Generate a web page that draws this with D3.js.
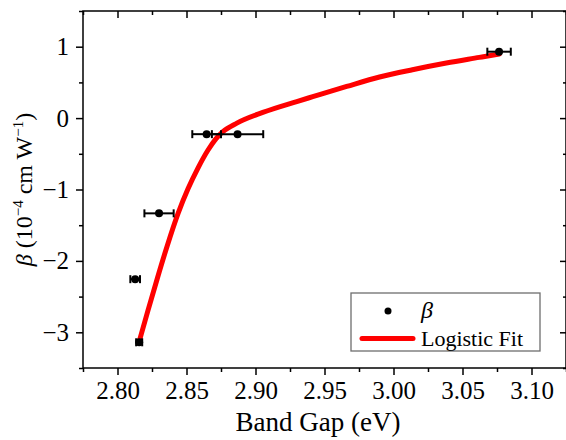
<!DOCTYPE html>
<html>
<head>
<meta charset="utf-8">
<script src="https://cdn.jsdelivr.net/npm/d3@7"></script>
</head>
<body style="margin:0;padding:0;background:#fff">
<svg id="chart" width="566" height="440" style="display:block"></svg>
<script>
// Measured nonlinear absorption coefficient versus band gap
const betaX    = [2.8157, 2.8128, 2.8301, 2.8646, 2.8870, 3.0765];
const betaY    = [-3.14, -2.256, -1.334, -0.225, -0.225, 0.930];
const betaXErr = [0.0022, 0.0035, 0.0106, 0.0104, 0.0186, 0.0085];

// Logistic fit curve sampled along its length
const fitX = [2.8157, 2.8220, 2.8290, 2.8360, 2.8439, 2.8511, 2.8583, 2.8655, 2.8713,
              2.8764, 2.8865, 2.9053, 2.9299, 2.9415, 2.9661, 2.9899, 3.0137, 3.0383,
              3.0622, 3.0767];
const fitY = [-3.13, -2.70, -2.235, -1.79, -1.334, -0.99, -0.70, -0.45, -0.29,
              -0.19, -0.07, 0.080, 0.232, 0.300, 0.443, 0.575, 0.677, 0.771,
              0.850, 0.898];

// Axis ticks
const xTicks = [2.80, 2.85, 2.90, 2.95, 3.00, 3.05, 3.10];
const xMinorTicks = [2.775, 2.825, 2.875, 2.925, 2.975, 3.025, 3.075, 3.125];
const yTicks = [-3, -2, -1, 0, 1];
const yMinorTicks = [-3.5, -2.5, -1.5, -0.5, 0.5, 1.5];

const legendLabels = ["β", "Logistic Fit"];

const serif = '"Liberation Serif", "Times New Roman", serif';
const svg = d3.select("#chart").attr("font-family", serif).style("font-family", serif);
const plotL = 83, plotR = 566, plotT = 11, plotB = 368;

const x = d3.scaleLinear().domain([2.775, 3.125]).range([plotL, plotR]);
const y = d3.scaleLinear().domain([-3.5, 1.5]).range([plotB, plotT]);

const majorLen = 7, minorLen = 4;
const axisStroke = 1.5;

// Serif text helper: font given both as attribute and inline style
function font(sel, size, italic) {
  return sel.attr("font-family", serif)
    .attr("font-size", size)
    .style("font-family", serif)
    .style("font-size", size + "px")
    .style("font-style", italic ? "italic" : "normal")
    .style("fill", "#000");
}

function styleAxis(g) {
  g.attr("font-family", serif).attr("font-size", 25);
  g.select(".domain").remove();
  g.selectAll(".tick line").attr("stroke", "#000").attr("stroke-width", axisStroke);
  font(g.selectAll(".tick text"), 25);
}

// Bottom axis: outward ticks with labels
svg.append("g").attr("transform", `translate(0,${plotB})`)
  .call(d3.axisBottom(x).tickValues(xTicks).tickSize(majorLen).tickPadding(6).tickFormat(d3.format(".2f")))
  .call(styleAxis);
svg.append("g").attr("transform", `translate(0,${plotB})`)
  .call(d3.axisBottom(x).tickValues(xMinorTicks).tickSize(minorLen).tickFormat(""))
  .call(styleAxis);

// Top axis: inward ticks
svg.append("g").attr("transform", `translate(0,${plotT})`)
  .call(d3.axisTop(x).tickValues(xTicks).tickSize(-majorLen).tickFormat(""))
  .call(styleAxis);
svg.append("g").attr("transform", `translate(0,${plotT})`)
  .call(d3.axisTop(x).tickValues(xMinorTicks).tickSize(-minorLen).tickFormat(""))
  .call(styleAxis);

// Left axis: outward ticks with labels
svg.append("g").attr("transform", `translate(${plotL},0)`)
  .call(d3.axisLeft(y).tickValues(yTicks).tickSize(majorLen).tickPadding(7).tickFormat(d3.format("d")))
  .call(styleAxis);
svg.append("g").attr("transform", `translate(${plotL},0)`)
  .call(d3.axisLeft(y).tickValues(yMinorTicks).tickSize(minorLen).tickFormat(""))
  .call(styleAxis);

// Right axis: inward ticks
svg.append("g").attr("transform", `translate(${plotR},0)`)
  .call(d3.axisRight(y).tickValues(yTicks).tickSize(-majorLen + 1).tickFormat(""))
  .call(styleAxis);
svg.append("g").attr("transform", `translate(${plotR},0)`)
  .call(d3.axisRight(y).tickValues(yMinorTicks).tickSize(-minorLen + 1).tickFormat(""))
  .call(styleAxis);

// Frame
svg.append("rect")
  .attr("x", plotL).attr("y", plotT)
  .attr("width", plotR - plotL).attr("height", plotB - plotT)
  .attr("fill", "none").attr("stroke", "#000").attr("stroke-width", axisStroke);

// Fit curve
const fitData = fitX.map((v, i) => [v, fitY[i]]);
svg.append("path")
  .datum(fitData)
  .attr("fill", "none")
  .attr("stroke", "#ff0000")
  .attr("stroke-width", 5)
  .attr("stroke-linecap", "round")
  .attr("stroke-linejoin", "round")
  .attr("d", d3.line().x(d => x(d[0])).y(d => y(d[1])).curve(d3.curveMonotoneX));

// Data points with horizontal error bars
const pts = betaX.map((v, i) => ({ x: v, y: betaY[i], e: betaXErr[i] }));
const capH = 4;
const eg = svg.append("g").attr("stroke", "#000").attr("stroke-width", 2);
pts.forEach(p => {
  const x0 = x(p.x - p.e), x1 = x(p.x + p.e), cy = y(p.y);
  eg.append("line").attr("x1", x0).attr("x2", x1).attr("y1", cy).attr("y2", cy);
  eg.append("line").attr("x1", x0).attr("x2", x0).attr("y1", cy - capH).attr("y2", cy + capH);
  eg.append("line").attr("x1", x1).attr("x2", x1).attr("y1", cy - capH).attr("y2", cy + capH);
});
svg.append("g").selectAll("circle").data(pts).join("circle")
  .attr("cx", d => x(d.x)).attr("cy", d => y(d.y)).attr("r", 4).attr("fill", "#000");

// Axis titles
font(svg.append("text"), 27)
  .attr("x", 318).attr("y", 431)
  .attr("text-anchor", "middle")
  .text("Band Gap (eV)");

const yTitle = font(svg.append("text"), 24)
  .attr("transform", `translate(32,${(plotT + plotB) / 2}) rotate(-90)`)
  .attr("text-anchor", "middle");
font(yTitle.append("tspan"), 24, true).text("β");
font(yTitle.append("tspan"), 24).text(" (10");
font(yTitle.append("tspan"), 15).attr("dy", -9).text("−4");
font(yTitle.append("tspan"), 24).attr("dy", 9).text(" cm W");
font(yTitle.append("tspan"), 15).attr("dy", -9).text("−1");
font(yTitle.append("tspan"), 24).attr("dy", 9).text(")");

// Legend
const lg = svg.append("g");
lg.append("rect")
  .attr("x", 351).attr("y", 293).attr("width", 189).attr("height", 58)
  .attr("fill", "#fff").attr("stroke", "#6e6e6e").attr("stroke-width", 1.3);
lg.append("circle").attr("cx", 388).attr("cy", 311).attr("r", 3.5).attr("fill", "#000");
font(lg.append("text"), 24, true)
  .attr("x", 421).attr("y", 318).text(legendLabels[0]);
lg.append("line").attr("x1", 362).attr("x2", 413).attr("y1", 338.5).attr("y2", 338.5)
  .attr("stroke", "#ff0000").attr("stroke-width", 5).attr("stroke-linecap", "round");
font(lg.append("text"), 22)
  .attr("x", 421).attr("y", 346).text(legendLabels[1]);
</script>
</body>
</html>
